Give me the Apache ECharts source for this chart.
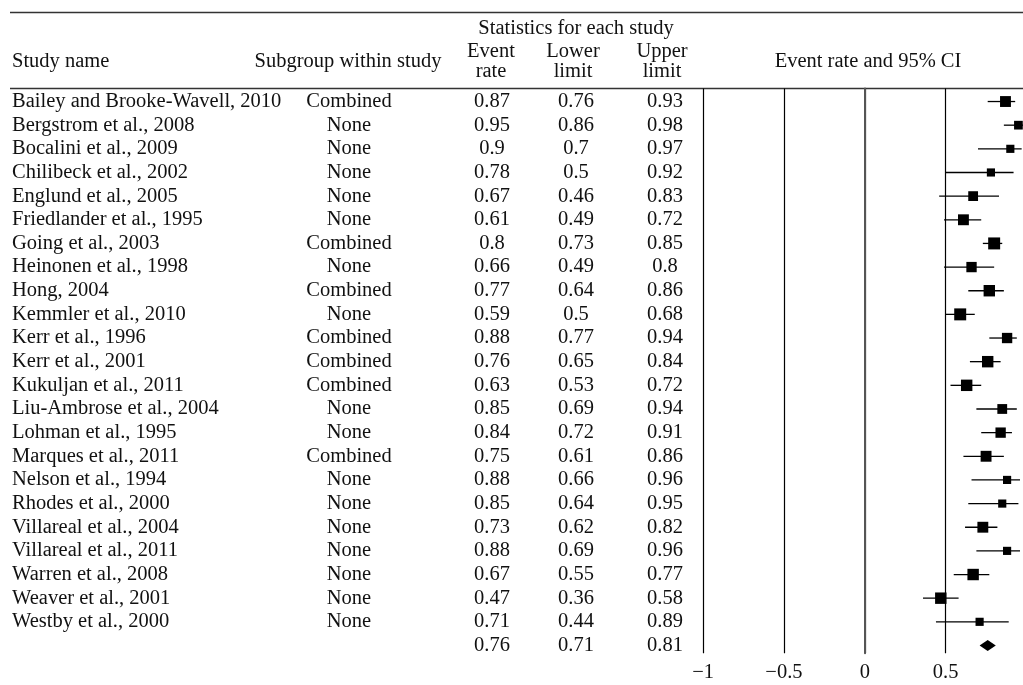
<!DOCTYPE html>
<html>
<head>
<meta charset="utf-8">
<script src="https://cdn.jsdelivr.net/npm/echarts@6/dist/echarts.min.js"></script>
<style>
  html, body { margin: 0; padding: 0; background: #fff; }
  #chart { width: 1023px; height: 685px; }
</style>
</head>
<body>
<div id="chart"></div>
<script>
// Forest plot of event rates with 95% confidence intervals per study
const studyNames = [
  'Bailey and Brooke-Wavell, 2010', 'Bergstrom et al., 2008', 'Bocalini et al., 2009',
  'Chilibeck et al., 2002', 'Englund et al., 2005', 'Friedlander et al., 1995',
  'Going et al., 2003', 'Heinonen et al., 1998', 'Hong, 2004', 'Kemmler et al., 2010',
  'Kerr et al., 1996', 'Kerr et al., 2001', 'Kukuljan et al., 2011',
  'Liu-Ambrose et al., 2004', 'Lohman et al., 1995', 'Marques et al., 2011',
  'Nelson et al., 1994', 'Rhodes et al., 2000', 'Villareal et al., 2004',
  'Villareal et al., 2011', 'Warren et al., 2008', 'Weaver et al., 2001', 'Westby et al., 2000'
];
const subgroups = [
  'Combined', 'None', 'None', 'None', 'None', 'None', 'Combined', 'None', 'Combined', 'None',
  'Combined', 'Combined', 'Combined', 'None', 'None', 'Combined', 'None', 'None', 'None',
  'None', 'None', 'None', 'None'
];
const eventRate = [0.87, 0.95, 0.9, 0.78, 0.67, 0.61, 0.8, 0.66, 0.77, 0.59, 0.88, 0.76, 0.63,
  0.85, 0.84, 0.75, 0.88, 0.85, 0.73, 0.88, 0.67, 0.47, 0.71];
const lowerLimit = [0.76, 0.86, 0.7, 0.5, 0.46, 0.49, 0.73, 0.49, 0.64, 0.5, 0.77, 0.65, 0.53,
  0.69, 0.72, 0.61, 0.66, 0.64, 0.62, 0.69, 0.55, 0.36, 0.44];
const upperLimit = [0.93, 0.98, 0.97, 0.92, 0.83, 0.72, 0.85, 0.8, 0.86, 0.68, 0.94, 0.84, 0.72,
  0.94, 0.91, 0.86, 0.96, 0.95, 0.82, 0.96, 0.77, 0.58, 0.89];
// relative study weights (%), shown as the area of each square
const studyWeight = [4.93, 3.16, 2.77, 2.77, 4.0, 4.93, 5.97, 4.45, 5.44, 5.97, 4.45, 5.44, 5.44,
  4.0, 4.45, 4.93, 2.77, 2.77, 4.93, 2.77, 5.44, 5.44, 2.77];
const summaryRate = 0.76;
const summaryLower = 0.71;
const summaryUpper = 0.81;
const axisTicks = [-1, -0.5, 0, 0.5];

const FONT = 'Liberation Serif';
const FS = 20.5;

// table rows: every study followed by the pooled row
const rowNames = studyNames.concat(['']);
const rowSubgroups = subgroups.concat(['']);
const rowRate = eventRate.concat([summaryRate]).map(String);
const rowLower = lowerLimit.concat([summaryLower]).map(String);
const rowUpper = upperLimit.concat([summaryUpper]).map(String);
const rowKeys = rowNames.map((n, i) => 'r' + i);

const studyData = eventRate.map((r, i) => [r, lowerLimit[i], upperLimit[i], i, studyWeight[i]]);
const summaryData = [[summaryRate, summaryLower, summaryUpper, studyNames.length]];

const ROWS_TOP = 89.7, ROWS_BOTTOM = 27.7;
const PLOT_LEFT = 703.1, PLOT_WIDTH = 323.4;

function textColumn(data, center, align) {
  return {
    type: 'category', gridIndex: 0, inverse: true, position: 'left', data: data,
    axisLine: { show: false }, axisTick: { show: false }, splitLine: { show: false },
    axisLabel: {
      interval: 0, align: align, margin: -(center - 10),
      fontFamily: FONT, fontSize: FS, color: '#111'
    }
  };
}

function headerText(x, y, text, align) {
  return {
    type: 'text', x: x, y: y,
    style: { text: text, fontFamily: FONT, fontSize: FS, fill: '#111',
      textAlign: align || 'center', textVerticalAlign: 'middle' }
  };
}

const chart = echarts.init(document.getElementById('chart'), null, { renderer: 'canvas' });

chart.setOption({
  animation: false,
  backgroundColor: '#fff',
  grid: [
    { left: 10, width: 1013, top: ROWS_TOP, bottom: ROWS_BOTTOM, outerBoundsMode: 'none', containLabel: false },
    { left: PLOT_LEFT, width: PLOT_WIDTH, top: ROWS_TOP, bottom: ROWS_BOTTOM, outerBoundsMode: 'none', containLabel: false },
    { left: PLOT_LEFT, width: PLOT_WIDTH, top: 88.5, bottom: 31.7, outerBoundsMode: 'none', containLabel: false }
  ],
  xAxis: [
    { type: 'value', gridIndex: 0, show: false, min: 0, max: 1 },
    { type: 'value', gridIndex: 1, show: false, min: -1, max: 1 },
    {
      type: 'value', gridIndex: 2, min: -1, max: 1, interval: 0.5, position: 'bottom',
      axisLine: { show: false }, axisTick: { show: false },
      splitLine: { show: true, lineStyle: { color: '#000', width: 1.2 } },
      axisLabel: {
        margin: 9, fontFamily: FONT, fontSize: FS, color: '#111',
        formatter: v => axisTicks.indexOf(v) < 0 ? '' : (v < 0 ? '\u2212' + Math.abs(v) : String(v))
      }
    }
  ],
  yAxis: [
    textColumn(rowNames, 12, 'left'),
    textColumn(rowSubgroups, 349, 'center'),
    textColumn(rowRate, 492, 'center'),
    textColumn(rowLower, 576, 'center'),
    textColumn(rowUpper, 665, 'center'),
    { type: 'category', gridIndex: 1, inverse: true, data: rowKeys, show: false },
    {
      type: 'value', gridIndex: 2, position: 'left', min: 0, max: 1,
      axisLine: { show: true, lineStyle: { color: '#555', width: 2 } },
      axisTick: { show: false }, axisLabel: { show: false }, splitLine: { show: false }
    }
  ],
  graphic: [
    { type: 'line', shape: { x1: 10, y1: 12.5, x2: 1023, y2: 12.5 }, style: { stroke: '#333', lineWidth: 1.5 } },
    { type: 'line', shape: { x1: 10, y1: 88.5, x2: 1023, y2: 88.5 }, style: { stroke: '#333', lineWidth: 1.5 } },
    headerText(12, 62, 'Study name', 'left'),
    headerText(348, 62, 'Subgroup within study'),
    headerText(576, 29, 'Statistics for each study'),
    headerText(491, 51.5, 'Event'),
    headerText(491, 71.5, 'rate'),
    headerText(573, 51.5, 'Lower'),
    headerText(573, 71.5, 'limit'),
    headerText(662, 51.5, 'Upper'),
    headerText(662, 71.5, 'limit'),
    headerText(868, 62, 'Event rate and 95% CI')
  ],
  series: [
    {
      type: 'custom', xAxisIndex: 1, yAxisIndex: 5, data: studyData, clip: false,
      encode: { x: [0, 1, 2], y: 3 },
      renderItem: function (params, api) {
        const row = api.value(3);
        const c = api.coord([api.value(0), row]);
        const lo = api.coord([api.value(1), row]);
        const hi = api.coord([api.value(2), row]);
        const s = 4.9 * Math.sqrt(api.value(4));
        return {
          type: 'group',
          children: [
            { type: 'line', shape: { x1: lo[0], y1: c[1], x2: hi[0], y2: c[1] },
              style: { stroke: '#000', lineWidth: 1.3 } },
            { type: 'rect', shape: { x: c[0] - s / 2, y: c[1] - s / 2, width: s, height: s },
              style: { fill: '#000' } }
          ]
        };
      }
    },
    {
      type: 'custom', xAxisIndex: 1, yAxisIndex: 5, data: summaryData, clip: false,
      encode: { x: [0, 1, 2], y: 3 },
      renderItem: function (params, api) {
        const row = api.value(3);
        const c = api.coord([api.value(0), row]);
        const lo = api.coord([api.value(1), row]);
        const hi = api.coord([api.value(2), row]);
        const h = 5.5;
        return {
          type: 'polygon',
          shape: { points: [[lo[0], c[1]], [c[0], c[1] - h], [hi[0], c[1]], [c[0], c[1] + h]] },
          style: { fill: '#000' }
        };
      }
    }
  ]
});
</script>
</body>
</html>
